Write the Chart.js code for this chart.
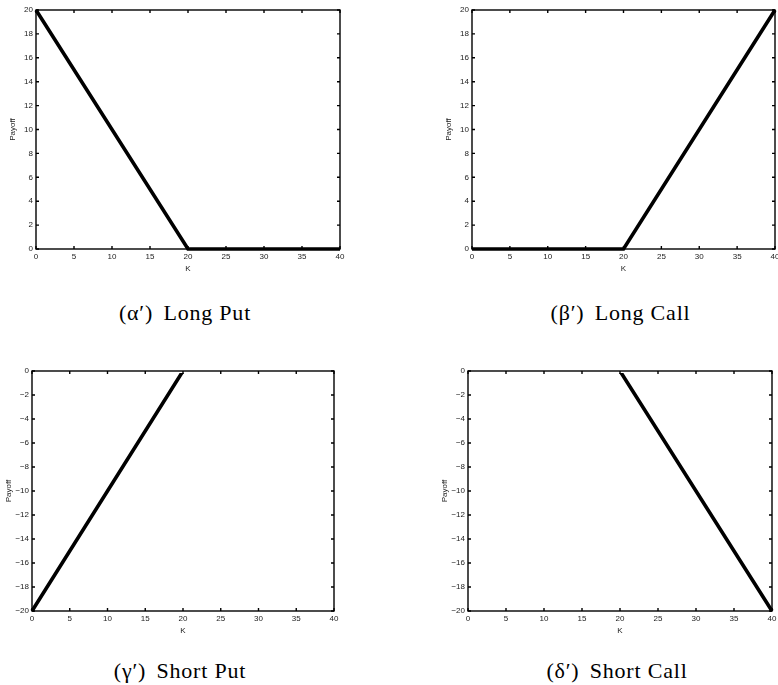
<!DOCTYPE html>
<html>
<head>
<meta charset="utf-8">
<script src="https://cdn.jsdelivr.net/npm/chart.js@4.4.0/dist/chart.umd.min.js"></script>
<style>
  html, body { margin: 0; padding: 0; background: #fff; }
  body { position: relative; width: 778px; height: 685px; overflow: hidden; }
  canvas { position: absolute; }
  .cap {
    position: absolute; width: 300px; text-align: center; white-space: nowrap;
    font-family: "Liberation Serif", serif; font-size: 22px; line-height: 22px; color: #000;
    letter-spacing: 0.8px;
  }
  .cap .tag { margin-right: 4px; }
</style>
</head>
<body>
<canvas id="c1"></canvas>
<canvas id="c2"></canvas>
<canvas id="c3"></canvas>
<canvas id="c4"></canvas>

<script>
// payoff at strike K (piecewise linear, so three points per curve)
const strikes = [0, 20, 40];
const longPut = [20, 0, 0];
const longCall = [0, 0, 20];
const shortPut = [-20, 0, 0];
const shortCall = [0, 0, -20];

const xTicks = [0, 5, 10, 15, 20, 25, 30, 35, 40];
const yTicksLong = [0, 2, 4, 6, 8, 10, 12, 14, 16, 18, 20];
const yTicksShort = [-20, -18, -16, -14, -12, -10, -8, -6, -4, -2, 0];

const tags = ['(α′)', '(β′)', '(γ′)', '(δ′)'];
const titles = ['Long Put', 'Long Call', 'Short Put', 'Short Call'];

// margins around the plot box inside each canvas
const PAD_L = 40, PAD_T = 10, PAD_R = 50, PAD_B = 45;
const TICK = 3;
const tickFont = { family: 'Liberation Sans', size: 8 };

// the short panels hide the flat part that sits on the top border
const panels = [
  { id: 'c1', values: longPut, yTicks: yTicksLong, clipTop: 2, capOff: 71, area: { left: 36, top: 10, right: 340, bottom: 249 } },
  { id: 'c2', values: longCall, yTicks: yTicksLong, clipTop: 2, capOff: 71, area: { left: 472, top: 10, right: 775, bottom: 249 } },
  { id: 'c3', values: shortPut, yTicks: yTicksShort, clipTop: -2, capOff: 67, area: { left: 32, top: 371, right: 334, bottom: 611 } },
  { id: 'c4', values: shortCall, yTicks: yTicksShort, clipTop: -2, capOff: 67, area: { left: 468, top: 371, right: 772, bottom: 611 } }
];

// matlab style box with inward ticks on all four sides
const framePlugin = {
  id: 'frame',
  afterDatasetsDraw(chart) {
    const { ctx, chartArea: a, scales: { x, y } } = chart;
    ctx.save();
    ctx.strokeStyle = '#000';
    ctx.lineWidth = 1.4;
    ctx.strokeRect(a.left, a.top, a.right - a.left, a.bottom - a.top);
    ctx.beginPath();
    x.ticks.forEach(function(t) {
      const px = x.getPixelForValue(t.value);
      ctx.moveTo(px, a.bottom); ctx.lineTo(px, a.bottom - TICK);
      ctx.moveTo(px, a.top); ctx.lineTo(px, a.top + TICK);
    });
    y.ticks.forEach(function(t) {
      const py = y.getPixelForValue(t.value);
      ctx.moveTo(a.left, py); ctx.lineTo(a.left + TICK, py);
      ctx.moveTo(a.right, py); ctx.lineTo(a.right - TICK, py);
    });
    ctx.stroke();
    ctx.restore();
  }
};

function minus(v) {
  return String(v).replace('-', '\u2212');
}

panels.forEach(function(p, i) {
  const a = p.area;
  const cv = document.getElementById(p.id);
  const w = a.right - a.left + PAD_L + PAD_R;
  const h = a.bottom - a.top + PAD_T + PAD_B;
  cv.width = w; cv.height = h;
  cv.style.width = w + 'px'; cv.style.height = h + 'px';
  cv.style.left = (a.left - PAD_L) + 'px';
  cv.style.top = (a.top - PAD_T) + 'px';

  const yMin = Math.min.apply(null, p.yTicks);
  const yMax = Math.max.apply(null, p.yTicks);

  new Chart(cv, {
    type: 'line',
    data: {
      datasets: [{
        data: strikes.map(function(k, j) { return { x: k, y: p.values[j] }; }),
        borderColor: '#000',
        borderWidth: 3.6,
        pointRadius: 0,
        tension: 0,
        borderCapStyle: 'butt',
        clip: { left: 2, top: p.clipTop, right: 2, bottom: 2 }
      }]
    },
    options: {
      responsive: false,
      animation: false,
      devicePixelRatio: 1,
      layout: { padding: { left: 0, top: PAD_T, right: PAD_R, bottom: 0 } },
      plugins: { legend: { display: false }, tooltip: { enabled: false } },
      scales: {
        x: {
          type: 'linear',
          min: 0,
          max: 40,
          afterBuildTicks: function(s) { s.ticks = xTicks.map(function(v) { return { value: v }; }); },
          afterFit: function(s) { s.height = PAD_B; },
          grid: { display: false, drawTicks: false },
          border: { display: false },
          ticks: { padding: 3, font: tickFont, color: '#222', maxRotation: 0, autoSkip: false },
          title: { display: true, text: 'K', font: tickFont, color: '#222', padding: { top: 0, bottom: 20 } }
        },
        y: {
          type: 'linear',
          min: yMin,
          max: yMax,
          afterBuildTicks: function(s) { s.ticks = p.yTicks.map(function(v) { return { value: v }; }); },
          afterFit: function(s) { s.width = PAD_L; },
          grid: { display: false, drawTicks: false },
          border: { display: false },
          ticks: { padding: 3, font: tickFont, color: '#222', autoSkip: false, callback: minus },
          title: { display: true, text: 'Payoff', font: tickFont, color: '#222', padding: { top: 12, bottom: 0 } }
        }
      }
    },
    plugins: [framePlugin]
  });

  const cap = document.createElement('div');
  cap.className = 'cap';
  cap.innerHTML = '<span class="tag">' + tags[i] + '</span> ' + titles[i];
  cap.style.left = ((a.left + a.right) / 2 - 153) + 'px';
  cap.style.top = (a.bottom + p.capOff - 18.5) + 'px';
  document.body.appendChild(cap);
});
</script>
</body>
</html>
